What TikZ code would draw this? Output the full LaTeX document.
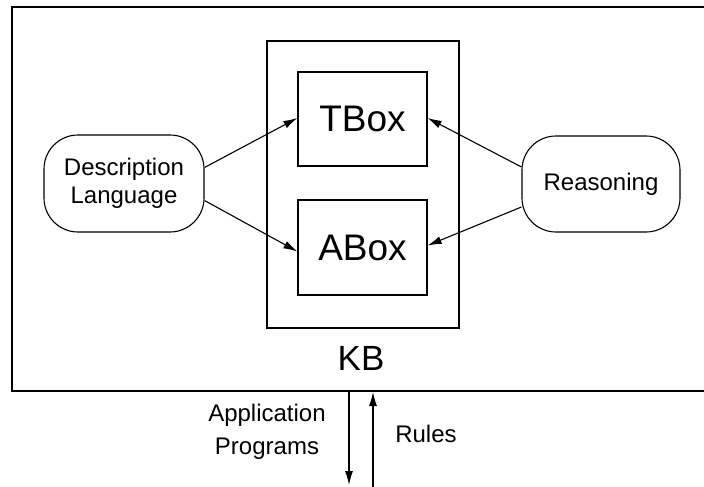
\documentclass[tikz,border=0pt]{standalone}
\usepackage{fontspec}
\setmainfont{Liberation Sans}
\usetikzlibrary{arrows.meta}
\begin{document}
\begin{tikzpicture}[x=1pt,y=-1pt,
  every node/.style={inner sep=0pt},
  frame/.style={line width=1.3pt},
  box/.style={draw,line width=1.2pt,rectangle},
  bubble/.style={draw,line width=1.1pt,rounded corners=34pt,align=center,font=\fontsize{24}{28}\selectfont},
  conn/.style={line width=1.1pt,-{Latex[length=14pt,width=8pt]}},
  lbl/.style={align=center,font=\fontsize{24}{33}\selectfont}]
\useasboundingbox (0,0) rectangle (704,487);
% outer frame (open on the right)
\draw[frame] (704,7) -- (12,7) -- (12,391) -- (704,391);
% KB box
\node[box,minimum width=192pt,minimum height=287pt] (kb) at (363,184.5) {};
\node[box,minimum width=129pt,minimum height=94pt,font=\fontsize{37}{40}\selectfont] (tbox) at (362.5,119) {TBox};
\node[box,minimum width=129pt,minimum height=95pt,font=\fontsize{37}{40}\selectfont] (abox) at (362.5,247.5) {ABox};
\node[font=\fontsize{35}{40}\selectfont] (kbl) at (361,358) {KB};
% side bubbles
\node[bubble,minimum width=160pt,minimum height=97pt] (dl) at (124,183.5) {Description\\Language};
\node[bubble,minimum width=158pt,minimum height=96pt] (rs) at (601,184) {Reasoning};
% connectors
\draw[conn] ([yshift=16pt]dl.east) -- ([yshift=1pt]tbox.west);
\draw[conn] ([yshift=-17pt]dl.east) -- ([yshift=-4pt]abox.west);
\draw[conn] ([yshift=17pt]rs.west) -- ([yshift=1pt]tbox.east);
\draw[conn] ([yshift=-23pt]rs.west) -- ([yshift=2pt]abox.east);
% bottom arrows
\coordinate (apA) at (349,391);
\coordinate (apB) at (349,485);
\coordinate (ruA) at (373,487);
\coordinate (ruB) at (373,392);
\draw[conn] (apA) -- (apB);
\draw[conn] (ruA) -- (ruB);
\node[lbl] (app) at (267,432) {Application\\Programs};
\node[lbl] (rules) at (426,434) {Rules};
\end{tikzpicture}
\end{document}
